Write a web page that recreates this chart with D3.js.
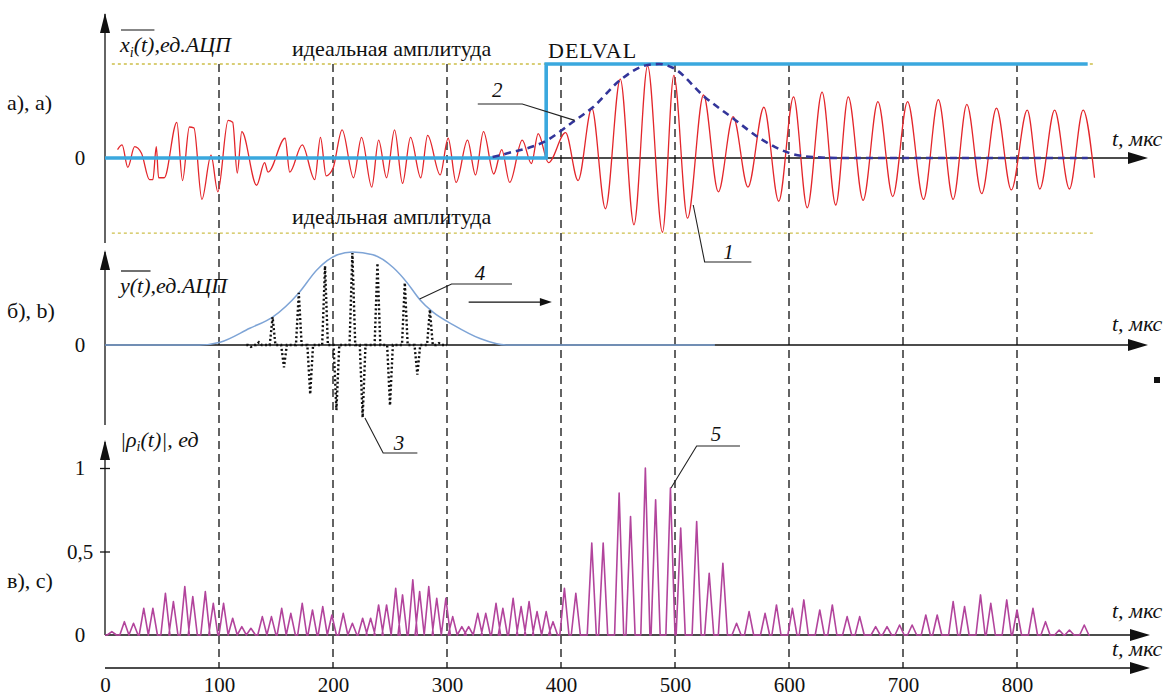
<!DOCTYPE html>
<html>
<head>
<meta charset="utf-8">
<script src="https://cdn.jsdelivr.net/npm/d3@7"></script>
<style>
  body { margin: 0; background: #fff; }
  svg text { font-family: "Liberation Serif", "DejaVu Serif", serif; fill: #111; }
</style>
</head>
<body>
<svg id="chart" width="1168" height="697"></svg>
<script>
// ---- data (t in мкс, values in panel units) ----
const bottomTicks = [0, 100, 200, 300, 400, 500, 600, 700, 800];
const gridTicks = [100, 200, 300, 400, 500, 600, 700, 800];
const idealHi = 1;
const idealLo = -0.8;
const idealSpan = [6, 867];
const cTicks = [0, 0.5, 1];
const cTickLabels = ['0', '0,5', '1'];

// DELVAL step
const delval = [[0, 0], [387, 0], [387, 1], [862, 1]];

// curve 1: input signal extrema
const signalA = [
  [11, 0.09], [15, 0.14], [20, -0.10], [26, 0.12], [32, 0.05], [39, -0.23], [42, -0.23], [45, 0.12],
  [47, -0.21], [52, -0.21], [63, 0.38], [68, -0.24], [74, 0.33], [78, 0.32], [85, -0.44], [93, 0.03],
  [99, -0.36], [108, 0.40], [112, 0.38], [116, -0.16], [120, 0.28], [133, -0.29], [140, -0.05], [143, -0.15],
  [158, 0.21], [162, -0.15], [173, 0.14], [184, -0.23], [189, 0.22], [194, -0.19], [200, -0.11], [208, 0.30],
  [218, -0.21], [225, 0.22], [234, -0.31], [240, 0.19], [247, -0.21], [254, 0.30], [261, -0.27], [268, 0.22],
  [277, -0.21], [283, 0.24], [294, -0.18], [301, 0.21], [308, -0.26], [318, 0.19], [325, -0.18], [332, 0.28],
  [341, -0.17], [348, 0.09], [355, -0.26], [366, 0.19], [374, -0.06], [380, 0.26], [389, -0.05], [404, 0.27],
  [415, -0.24], [427, 0.53], [439, -0.54], [452, 0.84], [464, -0.71], [476, 0.98], [489, -0.79], [499, 0.88],
  [511, -0.64], [525, 0.67], [538, -0.36], [551, 0.44], [564, -0.31], [578, 0.54], [591, -0.46], [604, 0.65],
  [616, -0.53], [629, 0.70], [641, -0.50], [652, 0.65], [665, -0.45], [678, 0.60], [691, -0.41], [704, 0.60],
  [718, -0.44], [731, 0.62], [744, -0.44], [756, 0.57], [769, -0.38], [782, 0.53], [795, -0.34], [809, 0.51],
  [820, -0.33], [833, 0.51], [846, -0.33], [858, 0.51], [868, -0.21]
];

// curve 2: envelope in panel a
const envelopeA = [
  [340, 0.01], [353, 0.05], [388, 0.19], [410, 0.38], [428, 0.54], [452, 0.83], [476, 0.99], [486, 1.0],
  [498, 0.96], [526, 0.65], [550, 0.43], [577, 0.19], [601, 0.05], [621, 0.01], [642, 0], [862, 0]
];

// curve 4: reference envelope in panel b
const envelopeB = [
  [0, 0], [83, 0], [101, 0.03], [127, 0.18], [147, 0.30], [170, 0.56], [186, 0.81], [204, 0.97], [217, 1.0],
  [235, 0.97], [253, 0.83], [265, 0.67], [276, 0.49], [288, 0.35], [305, 0.22], [329, 0.07], [352, 0], [535, 0]
];

// curve 3: reference pulse (spikes)
const spikesB = [
  [128, -0.02], [135, 0.03], [147, 0.30], [157, -0.24], [170, 0.56], [180, -0.53], [193, 0.85], [203, -0.70],
  [217, 0.99], [226, -0.78], [239, 0.88], [250, -0.65], [263, 0.67], [274, -0.32], [285, 0.38], [293, 0.02]
];
const spanB = [124, 300];

// curve 5: |rho| peaks
const spikesC = [
  [6, 0.02], [17, 0.08], [25, 0.07], [34, 0.16], [42, 0.16], [53, 0.25], [60, 0.20], [70, 0.29], [77, 0.23],
  [88, 0.26], [95, 0.19], [104, 0.19], [112, 0.10], [120, 0.05], [128, 0.04], [138, 0.11], [146, 0.11],
  [155, 0.16], [163, 0.13], [173, 0.19], [182, 0.15], [191, 0.17], [199, 0.12], [209, 0.13], [217, 0.07],
  [226, 0.10], [233, 0.10], [240, 0.18], [247, 0.18], [255, 0.28], [261, 0.24], [270, 0.33], [276, 0.26],
  [284, 0.29], [291, 0.22], [299, 0.22], [305, 0.11], [313, 0.05], [319, 0.05], [327, 0.13], [334, 0.13],
  [343, 0.19], [349, 0.16], [358, 0.22], [365, 0.17], [372, 0.20], [379, 0.14], [387, 0.14], [393, 0.08],
  [403, 0.28], [413, 0.25], [427, 0.55], [437, 0.55], [451, 0.85], [461, 0.71], [474, 1.00], [483, 0.81],
  [496, 0.88], [505, 0.64], [519, 0.68], [530, 0.37], [542, 0.43], [554, 0.07], [565, 0.14], [579, 0.13],
  [589, 0.18], [603, 0.16], [613, 0.21], [627, 0.15], [638, 0.18], [651, 0.11], [662, 0.11], [676, 0.05],
  [686, 0.05], [697, 0.06], [708, 0.06], [720, 0.12], [730, 0.12], [744, 0.20], [754, 0.17], [768, 0.24],
  [777, 0.19], [791, 0.21], [800, 0.15], [814, 0.16], [825, 0.08], [837, 0.03], [846, 0.03], [859, 0.06]
];
const spanC = [0, 864];

// ---- scales ----
const svg = d3.select('#chart');
const x = d3.scaleLinear().domain([0, 800]).range([105, 1017]);
const ya = d3.scaleLinear().domain([0, 1]).range([158, 64]);
const yb = d3.scaleLinear().domain([0, 1]).range([345, 252]);
const yc = d3.scaleLinear().domain([0, 1]).range([635, 468]);
const yBottom = 668;
const tipX = 1148;
const FS = 21;
const SERIF = '"Liberation Serif", "DejaVu Serif", serif';

// ---- helpers ----
const line = (x1, y1, x2, y2) => svg.append('line')
  .attr('x1', x1).attr('y1', y1).attr('x2', x2).attr('y2', y2)
  .attr('stroke', '#111').attr('stroke-width', 1.3);

const arrowRight = (xt, y, len = 20, hw = 6) => svg.append('path')
  .attr('d', `M${xt},${y}L${xt - len},${y - hw}L${xt - len},${y + hw}Z`).attr('fill', '#111');

const arrowUp = (xa, yt) => svg.append('path')
  .attr('d', `M${xa},${yt}L${xa - 5},${yt + 20}L${xa + 5},${yt + 20}Z`).attr('fill', '#111');

const label = (tx, ty, str, opts = {}) => svg.append('text')
  .attr('x', tx).attr('y', ty)
  .attr('font-family', SERIF)
  .attr('font-size', opts.size || FS)
  .attr('font-style', opts.italic ? 'italic' : null)
  .attr('text-anchor', opts.anchor || 'start')
  .attr('letter-spacing', opts.ls || null)
  .text(str);

const spikePoints = (spikes, hw, span) => {
  const pts = [[span[0], 0]];
  spikes.forEach(([t, v]) => pts.push([t - hw, 0], [t, v], [t + hw, 0]));
  pts.push([span[1], 0]);
  return pts;
};

// ---- ideal amplitude lines ----
[idealHi, idealLo].forEach((v) => {
  svg.append('line')
    .attr('x1', x(idealSpan[0])).attr('x2', x(idealSpan[1]))
    .attr('y1', ya(v)).attr('y2', ya(v))
    .attr('stroke', '#cdbf4a').attr('stroke-width', 1.3).attr('stroke-dasharray', '3,3');
});

// ---- dashed time grid ----
svg.append('g').selectAll('line').data(gridTicks).enter().append('line')
  .attr('x1', (d) => x(d)).attr('x2', (d) => x(d))
  .attr('y1', ya(idealHi)).attr('y2', yBottom)
  .attr('stroke', '#222').attr('stroke-width', 1.4).attr('stroke-dasharray', '8,5');

// ---- axes ----
const X0 = x(0);
line(X0, 14, X0, 243); arrowUp(X0, 13);
line(X0, 252, X0, 425); arrowUp(X0, 250);
line(X0, 442, X0, yc(0)); arrowUp(X0, 440);
line(X0, ya(0), tipX - 10, ya(0)); arrowRight(tipX, ya(0));
line(X0, yb(0), tipX - 10, yb(0)); arrowRight(tipX, yb(0));
line(X0, yc(0), tipX - 10, yc(0)); arrowRight(tipX + 2, yc(0));
line(X0, yBottom, tipX - 10, yBottom); arrowRight(tipX + 2, yBottom);

// bottom tick labels via axis
const bottomAxis = svg.append('g')
  .attr('transform', `translate(0,${yBottom})`)
  .call(d3.axisBottom(x).tickValues(bottomTicks).tickSize(0).tickPadding(9));
bottomAxis.select('.domain').remove();
bottomAxis.selectAll('text').attr('font-size', FS).attr('fill', '#111')
  .attr('font-family', SERIF).style('font-family', SERIF);

// panel c tick marks
const cAxis = svg.append('g')
  .attr('transform', `translate(${X0 + 5},0)`)
  .call(d3.axisLeft(yc).tickValues(cTicks.slice(1)).tickSize(10).tickFormat(''));
cAxis.select('.domain').remove();
cAxis.selectAll('line').attr('stroke', '#111').attr('stroke-width', 1.3);
cTicks.forEach((v, i) => label(80, yc(v) + 7, cTickLabels[i], { anchor: 'middle' }));

label(80, ya(0) + 7, '0', { anchor: 'middle' });
label(80, yb(0) + 7, '0', { anchor: 'middle' });

// ---- panel b ----
svg.append('path').datum(envelopeB)
  .attr('d', d3.line().x((d) => x(d[0])).y((d) => yb(d[1])).curve(d3.curveMonotoneX))
  .attr('fill', 'none').attr('stroke', '#7ea4d6').attr('stroke-width', 1.5);
svg.append('path').datum(spikePoints(spikesB, 2.5, spanB))
  .attr('d', d3.line().x((d) => x(d[0])).y((d) => yb(d[1])))
  .attr('fill', 'none').attr('stroke', '#111').attr('stroke-width', 2.4).attr('stroke-dasharray', '2,2.4');

// ---- panel a ----
svg.append('path').datum(signalA)
  .attr('d', d3.line().x((d) => x(d[0])).y((d) => ya(d[1])).curve(d3.curveMonotoneX))
  .attr('fill', 'none').attr('stroke', '#e3262b').attr('stroke-width', 1.3);
svg.append('path').datum(delval)
  .attr('d', d3.line().x((d) => x(d[0])).y((d) => ya(d[1])))
  .attr('fill', 'none').attr('stroke', '#3aa8de').attr('stroke-width', 3.6);
svg.append('path').datum(envelopeA)
  .attr('d', d3.line().x((d) => x(d[0])).y((d) => ya(d[1])).curve(d3.curveMonotoneX))
  .attr('fill', 'none').attr('stroke', '#33359a').attr('stroke-width', 2.6).attr('stroke-dasharray', '7,5');

// ---- panel c ----
svg.append('path').datum(spikePoints(spikesC, 4, spanC))
  .attr('d', d3.line().x((d) => x(d[0])).y((d) => yc(d[1])))
  .attr('fill', 'none').attr('stroke', '#b2449c').attr('stroke-width', 1.6).attr('stroke-linejoin', 'round');

// ---- texts ----
label(292, 56, 'идеальная амплитуда', { size: 22 });
label(292, 224, 'идеальная амплитуда', { size: 22 });
label(548, 58, 'DELVAL', { size: 22, ls: 1 });
label(7, 110, 'а), a)', { size: 22 });
label(7, 318, 'б), b)', { size: 22 });
label(7, 588, 'в), c)', { size: 22 });
[ya(0) - 12, yb(0) - 14, yc(0) - 17, yBottom - 12].forEach((ty) => label(1112, ty, 't, мкс', { italic: true, size: 22 }));

// axis titles with overline
const title = (tx, ty, parts, overChars, overY) => {
  const t = svg.append('text').attr('x', tx).attr('y', ty)
    .attr('font-family', SERIF).attr('font-size', 22).attr('font-style', 'italic');
  parts.forEach((p) => {
    t.append('tspan').attr('font-size', p.size || null).attr('dy', p.dy || null).text(p.s);
  });
  if (overChars) {
    const w = t.node().getSubStringLength(0, overChars);
    svg.append('line').attr('x1', tx + 1).attr('x2', tx + w).attr('y1', overY).attr('y2', overY)
      .attr('stroke', '#111').attr('stroke-width', 1.2);
  }
};
title(120, 52, [{ s: 'x' }, { s: 'i', size: 14, dy: 5 }, { s: '(t)', dy: -5 }, { s: ',ед.АЦП' }], 5, 30);
title(120, 293, [{ s: 'y(t)' }, { s: ',ед.АЦП' }], 4, 271);
title(120, 447, [{ s: '|ρ' }, { s: 'i', size: 14, dy: 4 }, { s: '(t)|', dy: -4 }, { s: ', ед' }], 0, 0);

// ---- annotation leaders (data coords) ----
const leader = (pts, sy) => svg.append('path')
  .attr('d', d3.line().x((d) => x(d[0])).y((d) => sy(d[1]))(pts))
  .attr('fill', 'none').attr('stroke', '#222').attr('stroke-width', 1.1);
leader([[516, -0.50], [526, -1.106], [567, -1.106]], ya);
label(x(547), ya(-1.074), '1', { italic: true, anchor: 'middle' });
leader([[412, 0.40], [366, 0.574], [327, 0.574]], ya);
label(x(344), ya(0.649), '2', { italic: true, anchor: 'middle' });
leader([[228, -0.785], [244, -1.161], [274, -1.161]], yb);
label(x(258), yb(-1.129), '3', { italic: true, anchor: 'middle' });
leader([[276, 0.495], [304, 0.656], [357, 0.656]], yb);
label(x(329), yb(0.699), '4', { italic: true, anchor: 'middle' });
leader([[496.5, 0.88], [519, 1.132], [557, 1.132]], yc);
label(x(536), yc(1.162), '5', { italic: true, anchor: 'middle' });

// motion arrow in panel b
line(x(319), yb(0.462), x(384), yb(0.462)).attr('stroke-width', 1.2);
arrowRight(x(392), yb(0.462), 12, 4);

// small marker square
svg.append('rect').attr('x', 1154).attr('y', 377).attr('width', 6).attr('height', 6).attr('fill', '#111');
</script>
</body>
</html>
